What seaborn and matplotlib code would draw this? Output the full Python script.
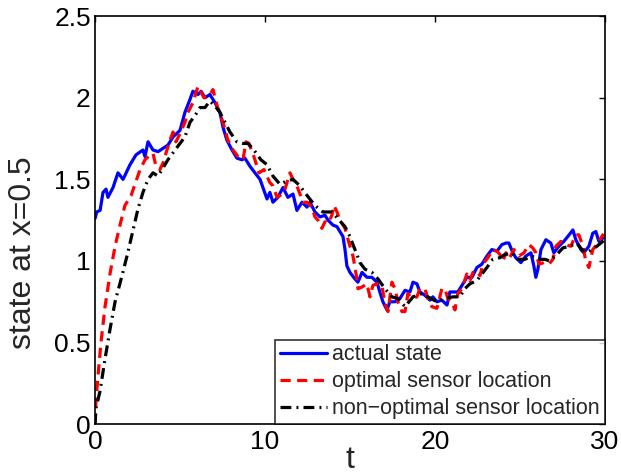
import numpy as np
import pandas as pd
import matplotlib
matplotlib.use("Agg")
import matplotlib.pyplot as plt
import seaborn as sns

# values
t_actual = [0.0, 0.1, 0.3, 0.47, 0.65, 0.76, 1.06, 1.35, 1.65, 2.06, 2.41, 2.82, 2.94, 3.12,
            3.41, 3.71, 4.0, 4.29, 4.59, 5.0, 5.29, 5.59, 5.76, 6.06, 6.24, 6.47, 6.76, 7.06,
            7.35, 7.53, 7.76, 8.06, 8.35, 8.65, 8.82, 9.12, 9.41, 9.71, 9.88, 10.12, 10.29,
            10.47, 10.76, 11.06, 11.35, 11.65, 11.88, 12.18, 12.47, 12.65, 12.94, 13.24, 13.53,
            13.71, 14.0, 14.24, 14.41, 14.59, 14.71, 14.82, 15.0, 15.29, 15.47, 15.71, 16.0,
            16.29, 16.59, 16.76, 16.94, 17.18, 17.35, 17.65, 17.94, 18.24, 18.53, 18.71, 18.94,
            19.12, 19.41, 19.71, 19.88, 20.12, 20.41, 20.71, 20.88, 21.06, 21.35, 21.65, 21.88,
            22.18, 22.47, 22.76, 23.06, 23.35, 23.65, 23.94, 24.18, 24.35, 24.59, 24.76, 25.06,
            25.35, 25.65, 25.82, 25.94, 26.06, 26.24, 26.53, 26.82, 27.0, 27.29, 27.59, 27.82,
            28.12, 28.29, 28.59, 28.76, 29.06, 29.29, 29.47, 29.65, 29.88, 30.0]
actual = [1.26, 1.30, 1.31, 1.42, 1.44, 1.39, 1.45, 1.54, 1.50, 1.59, 1.65, 1.68, 1.64, 1.73,
          1.68, 1.67, 1.69, 1.71, 1.76, 1.80, 1.91, 1.99, 2.04, 2.02, 2.04, 2.00, 2.02, 1.97,
          1.91, 1.82, 1.74, 1.68, 1.63, 1.62, 1.63, 1.58, 1.54, 1.50, 1.45, 1.38, 1.42,
          1.36, 1.39, 1.45, 1.39, 1.41, 1.31, 1.36, 1.33, 1.36, 1.30, 1.27, 1.28,
          1.25, 1.22, 1.21, 1.18, 1.15, 1.07, 0.97, 0.93, 0.89, 0.87, 0.93, 0.90,
          0.90, 0.87, 0.81, 0.75, 0.70, 0.75, 0.75, 0.77, 0.82, 0.81, 0.87, 0.86,
          0.81, 0.79, 0.76, 0.78, 0.75, 0.76, 0.73, 0.81, 0.81, 0.81, 0.86, 0.90,
          0.90, 0.96, 0.98, 1.03, 1.07, 1.06, 1.10, 1.11, 1.11, 1.05, 1.02, 0.99,
          1.03, 1.05, 0.97, 0.90, 0.95, 1.07, 1.13, 1.11, 1.05, 1.09, 1.12, 1.15,
          1.19, 1.13, 1.07, 1.05, 1.09, 1.17, 1.18, 1.12, 1.14, 1.15]

t_opt = [0.0, 0.06, 0.18, 0.35, 0.59, 0.88, 1.18, 1.47, 1.76, 2.12, 2.35, 2.65, 2.94, 3.24,
         3.41, 3.59, 3.82, 4.0, 4.41, 4.59, 4.76, 5.0, 5.29, 5.47, 5.76, 6.06, 6.41, 6.71,
         6.94, 7.24, 7.53, 7.82, 8.12, 8.41, 8.71, 8.88, 9.06, 9.35, 9.65, 9.94, 10.29, 10.47,
         10.71, 10.88, 11.18, 11.47, 11.65, 11.88, 12.24, 12.47, 12.76, 12.94, 13.12, 13.35,
         13.53, 13.71, 13.94, 14.06, 14.24, 14.41, 14.71, 15.0, 15.18, 15.41, 15.47, 15.71,
         16.0, 16.18, 16.35, 16.59, 16.88, 17.06, 17.24, 17.47, 17.65, 17.82, 18.06, 18.24,
         18.41, 18.65, 18.94, 19.12, 19.41, 19.59, 19.82, 20.12, 20.41, 20.59, 20.76, 21.0,
         21.18, 21.35, 21.59, 21.88, 22.06, 22.24, 22.47, 22.65, 22.82, 23.12, 23.41, 23.65,
         23.82, 24.0, 24.18, 24.35, 24.65, 24.94, 25.24, 25.53, 25.76, 25.94, 26.12, 26.41,
         26.71, 26.94, 27.12, 27.41, 27.71, 28.0, 28.29, 28.47, 28.71, 28.88, 29.06, 29.29,
         29.59, 29.88, 30.0]
opt = [0.0, 0.15, 0.30, 0.50, 0.72, 0.92, 1.09, 1.22, 1.34, 1.40, 1.47, 1.56, 1.62, 1.65,
       1.66, 1.58, 1.56, 1.60, 1.74, 1.79, 1.73, 1.78, 1.85, 1.91, 1.97, 2.07, 2.00, 2.01,
       2.05, 1.93, 1.85, 1.74, 1.68, 1.64, 1.62, 1.73, 1.72, 1.64, 1.54, 1.56, 1.48, 1.46,
       1.39, 1.40, 1.44, 1.54, 1.50, 1.46, 1.36, 1.36, 1.33, 1.27, 1.25, 1.20,
       1.24, 1.23, 1.28, 1.34, 1.30, 1.25, 1.20, 1.09, 1.03, 0.89, 0.83, 0.84,
       0.86, 0.78, 0.85, 0.86, 0.85, 0.74, 0.69, 0.87, 0.83, 0.75, 0.69, 0.69,
       0.80, 0.77, 0.78, 0.83, 0.83, 0.77, 0.72, 0.71, 0.83, 0.83, 0.77, 0.75,
       0.70, 0.80, 0.83, 0.92, 0.88, 0.93, 0.94, 0.91, 0.98, 1.02, 1.07, 1.06,
       1.04, 1.00, 1.05, 1.01, 1.07, 1.03, 1.05, 1.10, 1.08, 1.05, 0.98, 0.99,
       0.98, 1.01, 1.09, 1.12, 1.10, 1.09, 1.16, 1.16, 1.09, 1.00, 0.96, 1.07,
       1.11, 1.16, 1.15]

t_nonopt = [0.0, 0.06, 0.29, 0.59, 0.88, 1.18, 1.59, 1.88, 2.24, 2.53, 2.82, 3.12, 3.41, 3.71,
            4.0, 4.29, 4.71, 5.0, 5.29, 5.59, 5.88, 6.18, 6.47, 6.76, 7.06, 7.35, 7.65, 7.94,
            8.35, 8.71, 9.0, 9.35, 9.76, 10.12, 10.47, 10.88, 11.29, 11.65, 12.06, 12.41,
            12.94, 13.41, 13.94, 14.29, 14.71, 15.0, 15.18, 15.41, 15.59, 15.88, 16.29, 16.65,
            17.06, 17.47, 17.82, 18.24, 18.71, 19.24, 19.59, 20.12, 20.59, 21.06, 21.47, 21.76,
            22.06, 22.47, 22.76, 23.06, 23.41, 23.82, 24.12, 24.53, 24.88, 25.29, 25.71, 26.06,
            26.47, 26.76, 27.18, 27.53, 27.94, 28.35, 28.65, 28.94, 29.24, 29.53, 29.88, 30.0]
nonopt = [0.0, 0.10, 0.20, 0.40, 0.58, 0.75, 0.91, 1.03, 1.19, 1.32, 1.42, 1.50, 1.54, 1.52,
          1.57, 1.62, 1.68, 1.72, 1.76, 1.85, 1.89, 1.94, 1.94, 1.98, 1.95, 1.91, 1.85, 1.79,
          1.73, 1.72, 1.72, 1.68, 1.62, 1.59, 1.52, 1.47, 1.49, 1.50, 1.46, 1.41,
          1.34, 1.30, 1.30, 1.26, 1.21, 1.15, 1.10, 1.04, 0.99, 0.95, 0.93, 0.89,
          0.83, 0.78, 0.77, 0.72, 0.78, 0.80, 0.78, 0.75, 0.77, 0.78, 0.78, 0.83,
          0.86, 0.88, 0.92, 0.96, 1.01, 1.02, 1.04, 1.05, 1.01, 1.01, 1.03, 1.01,
          1.01, 1.00, 1.04, 1.08, 1.09, 1.11, 1.07, 1.05, 1.07, 1.09, 1.12, 1.13]

df_actual = pd.DataFrame({"t": t_actual, "y": actual})
df_opt = pd.DataFrame({"t": t_opt, "y": opt})
df_nonopt = pd.DataFrame({"t": t_nonopt, "y": nonopt})

sns.set_style("white")
plt.rcParams["font.family"] = ["Liberation Sans", "DejaVu Sans"]

fig = plt.figure(figsize=(6.21, 4.75), dpi=100)
ax = fig.add_axes([0.153, 0.107, 0.821, 0.859])

sns.lineplot(data=df_actual, x="t", y="y", ax=ax, color="#0000ff", lw=2.3,
             estimator=None, label="actual state")
sns.lineplot(data=df_opt, x="t", y="y", ax=ax, color="#ff0000", lw=2.3,
             estimator=None, label="optimal sensor location")
sns.lineplot(data=df_nonopt, x="t", y="y", ax=ax, color="black", lw=2.3,
             estimator=None, label="non\u2212optimal sensor location")
ax.lines[1].set_dashes([3.2, 2.0])
ax.lines[2].set_dashes([3.4, 1.6, 0.6, 1.6])

ax.set_xlim(0, 30)
ax.set_ylim(0, 2.5)
ax.set_xticks([0, 10, 20, 30])
ax.set_yticks([0, 0.5, 1, 1.5, 2, 2.5])
ax.set_yticklabels(["0", "0.5", "1", "1.5", "2", "2.5"])
ax.tick_params(direction="in", length=4, width=1, top=True, right=True,
               labelsize=19, colors="black")
ax.tick_params(axis="x", pad=4)
ax.tick_params(axis="y", pad=3)
for s in ax.spines.values():
    s.set_color("black")
    s.set_linewidth(1.2)
ax.set_xlabel("t", fontsize=23, labelpad=-6)
ax.set_ylabel("state at x=0.5", fontsize=23)
ax.yaxis.set_label_coords(-0.112, 0.42)

leg = ax.legend(loc="lower right", fontsize=15.5, frameon=True, fancybox=False,
                borderaxespad=0, handlelength=2.2, handletextpad=0.25,
                labelspacing=0.28, borderpad=0.22)
leg.get_frame().set_edgecolor("black")
leg.get_frame().set_linewidth(1.2)

fig.savefig("out.png", dpi=100)
